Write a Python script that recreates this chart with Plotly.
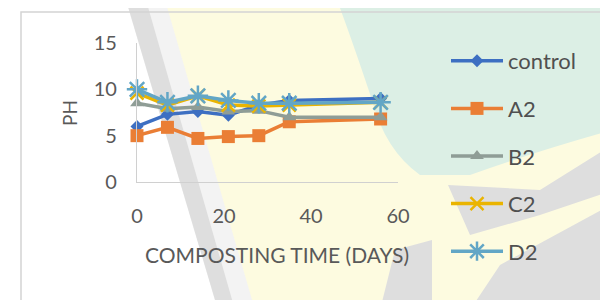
import re
import plotly.graph_objects as go

days = [0, 7, 14, 21, 28, 35, 56]
control = [6.0, 7.3, 7.6, 7.2, 8.3, 8.8, 9.0]
a2 = [5.0, 5.9, 4.7, 4.9, 5.0, 6.5, 6.8]
b2 = [8.5, 7.9, 8.1, 7.6, 7.7, 7.0, 7.0]
c2 = [9.6, 8.3, 9.3, 8.3, 8.2, 8.3, 8.6]
d2 = [10.0, 8.6, 9.3, 8.8, 8.5, 8.5, 8.6]

series = [
    ("control", control, "#3d6fc2", dict(symbol="diamond", size=10)),
    ("A2", a2, "#ea7e35", dict(symbol="square", size=13)),
    ("B2", b2, "#8f9d96", dict(symbol="triangle-up", size=12)),
    ("C2", c2, "#eab400", dict(symbol="x-thin-open", size=13, line=dict(width=2.5))),
    ("D2", d2, "#62a6c6", dict(symbol="asterisk-open", size=17, line=dict(width=2.5))),
]

fig = go.Figure()
for i, (name, vals, col, mk) in enumerate(series):
    m = dict(mk)
    m["color"] = col
    if "line" in m:
        m["line"] = dict(m["line"], color=col)
    fig.add_trace(go.Scatter(
        x=days, y=vals, name=name, mode="lines+markers",
        line=dict(color=col, width=3.5), marker=m,
        legendgroup=f"g{i}", cliponaxis=False,
    ))

# page body has an 8px margin: work in screen pixels and shift
OFF = 8
W, H = 608 - OFF, 300 - OFF
PL, PR, PT, PB = 137, 398, 43, 182  # plot area in screen px
L, T = PL - OFF, PT - OFF
R, B = W - (PR - OFF), H - (PB - OFF)
pw, ph = W - L - R, H - T - B


def px_x(v):
    return (v - OFF - L) / pw


def px_y(v):
    return (H - B - (v - OFF)) / ph


grey = "#dedede"
bg_shapes = [
    ("M 163 0 L 620 0 L 620 310 L 250 310 Z", "#fdfbe0"),
    ("M 337 0 L 620 0 L 620 128 Q 540 150 470 175 L 420 175 Q 385 150 372 100 Q 352 40 337 0 Z", "#dcefe5"),
    ("M 126 0 L 165 0 L 255 310 L 218 310 Z", "#f3f3f3"),
    ("M 126 0 L 146 0 L 235 310 L 218 310 Z", grey),
    ("M 448 185 L 540 190 L 620 140 L 620 188 L 540 215 L 470 235 Z", grey),
    ("M 380 310 L 395 250 L 432 240 L 432 310 Z", grey),
    ("M 470 310 L 500 265 L 620 200 L 620 310 Z", grey),
]

shapes = []
for path, col in bg_shapes:
    toks = re.findall(r"[MLQZ]|-?\d+\.?\d*", path)
    out, nums = [], []
    for t in toks:
        if t in "MLQZ":
            out.append(t)
        else:
            nums.append(float(t))
            if len(nums) == 2:
                out.append(f"{px_x(nums[0]):.4f},{px_y(nums[1]):.4f}")
                nums = []
    shapes.append(dict(type="path", path=" ".join(out), xref="paper", yref="paper",
                       fillcolor=col, line=dict(width=0), layer="below"))
shapes.append(dict(type="rect", xref="paper", yref="paper",
                   x0=px_x(21), y0=px_y(12), x1=px_x(640), y1=px_y(330),
                   line=dict(color="#d4d4d4", width=1.5), fillcolor="rgba(0,0,0,0)", layer="below"))

font = "Lato, 'Open Sans', sans-serif"
fig.update_layout(
    width=W, height=H,
    margin=dict(l=L, r=R, t=T, b=B, autoexpand=False),
    paper_bgcolor="#ffffff", plot_bgcolor="rgba(0,0,0,0)",
    font=dict(family=font, size=20, color="#595959"),
    shapes=shapes,
    showlegend=True,
    legend=dict(x=px_x(446), y=px_y(40), xanchor="left", yanchor="top",
                bgcolor="rgba(0,0,0,0)", tracegroupgap=16, maxheight=280,
                font=dict(size=22, color="#505050"), itemwidth=52),
    xaxis=dict(range=[0, 60], tickvals=[0, 20, 40, 60], showgrid=False, zeroline=False,
               showline=True, linecolor="#d0d0d0", linewidth=1.2, ticks="",
               ticklabelstandoff=16, tickfont=dict(size=20, color="#595959")),
    yaxis=dict(range=[0, 15], tickvals=[0, 5, 10, 15], showgrid=False, zeroline=False,
               showline=True, linecolor="#d0d0d0", linewidth=1.2, ticks="",
               ticklabelstandoff=15, tickfont=dict(size=20, color="#595959")),
    annotations=[
        dict(text="COMPOSTING TIME (DAYS)", x=px_x(277), y=px_y(255),
             xanchor="center", yanchor="middle",
             xref="paper", yref="paper", showarrow=False, font=dict(size=21, color="#595959")),
        dict(text="PH", x=px_x(69), y=px_y(113), textangle=-90,
             xanchor="center", yanchor="middle",
             xref="paper", yref="paper", showarrow=False, font=dict(size=19, color="#595959")),
    ],
)

fig.write_html("out.html")
